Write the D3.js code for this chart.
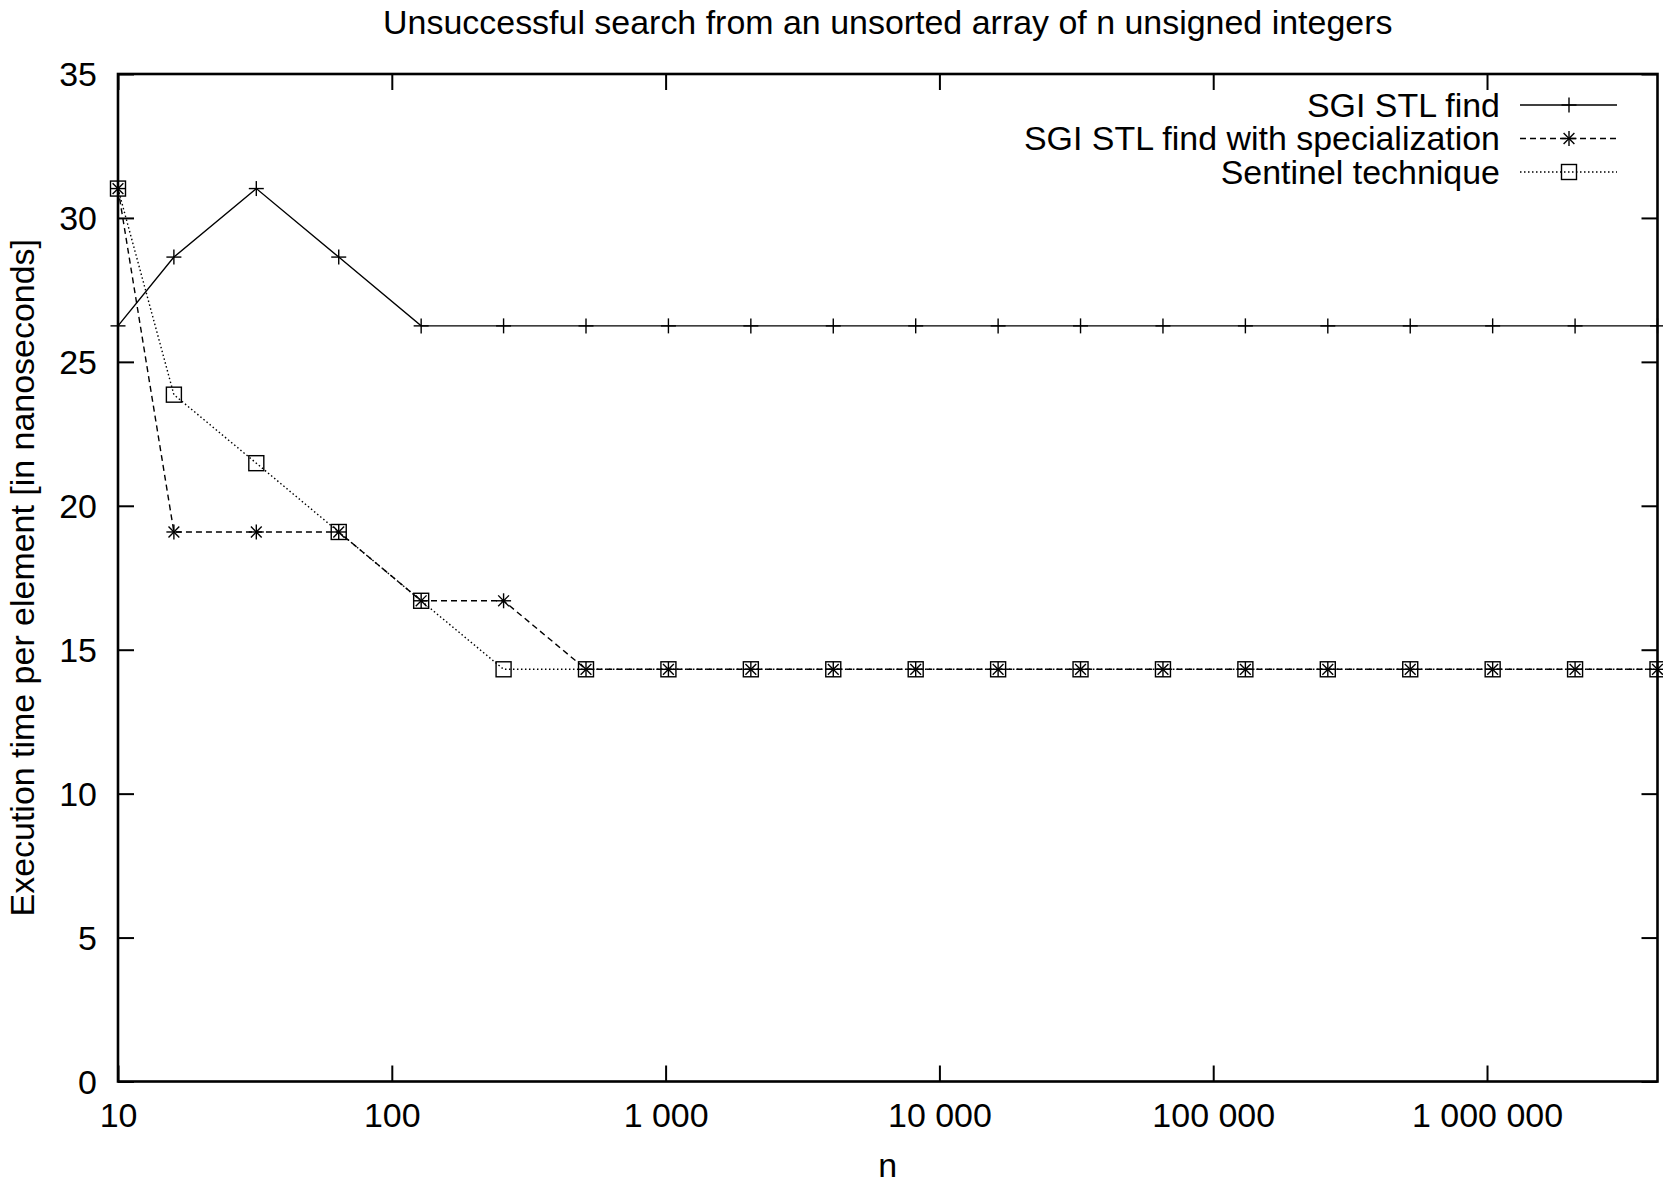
<!DOCTYPE html>
<html>
<head>
<meta charset="utf-8">
<script src="https://cdn.jsdelivr.net/npm/d3@7"></script>
<style>
  html, body { margin: 0; padding: 0; background: #fff; }
  svg { display: block; }
  text { font-family: "Liberation Sans", Arial, Helvetica, sans-serif; fill: #000; }
</style>
</head>
<body>
<svg id="chart" width="1663" height="1183"></svg>
<script>
// ---------------- data ----------------
const titleText = "Unsuccessful search from an unsorted array of n unsigned integers";
const xLabel = "n";
const yLabel = "Execution time per element [in nanoseconds]";

const nValues = [10, 16, 32, 64, 128, 256, 512, 1024, 2048, 4096, 8192, 16384,
                 32768, 65536, 131072, 262144, 524288, 1048576, 2097152, 4194304];

const sgiFind = [26.25, 28.64, 31.02, 28.64, 26.25, 26.25, 26.25, 26.25, 26.25, 26.25,
                 26.25, 26.25, 26.25, 26.25, 26.25, 26.25, 26.25, 26.25, 26.25, 26.25];
const sgiFindSpecialized = [31.02, 19.09, 19.09, 19.09, 16.70, 16.70, 14.32, 14.32, 14.32, 14.32,
                 14.32, 14.32, 14.32, 14.32, 14.32, 14.32, 14.32, 14.32, 14.32, 14.32];
const sentinel = [31.02, 23.86, 21.48, 19.09, 16.70, 14.32, 14.32, 14.32, 14.32, 14.32,
                 14.32, 14.32, 14.32, 14.32, 14.32, 14.32, 14.32, 14.32, 14.32, 14.32];

const seriesNames = ["SGI STL find", "SGI STL find with specialization", "Sentinel technique"];

const xTickValues = [10, 100, 1000, 10000, 100000, 1000000];
const xTickLabels = ["10", "100", "1 000", "10 000", "100 000", "1 000 000"];
const yTickValues = [0, 5, 10, 15, 20, 25, 30, 35];
const yTickLabels = ["0", "5", "10", "15", "20", "25", "30", "35"];

// ---------------- layout ----------------
const W = 1663, H = 1183;
const M = { left: 118, top: 74, right: 5.5, bottom: 101.5 };
const iw = W - M.left - M.right, ih = H - M.top - M.bottom;
const FS = 32.5, SX = 1.045;   // font size and horizontal stretch
const TICK = 16;

const svg = d3.select("#chart");
const g = svg.append("g").attr("transform", `translate(${M.left},${M.top})`);

const x = d3.scaleLog().domain([nValues[0], nValues[nValues.length - 1]]).range([0, iw]);
const y = d3.scaleLinear().domain([0, 35]).range([ih, 0]);

// axes (ticks inward, mirrored)
const fmtX = v => xTickLabels[xTickValues.indexOf(v)];
const fmtY = v => yTickLabels[yTickValues.indexOf(v)];

const axB = g.append("g").attr("transform", `translate(0,${ih})`)
  .call(d3.axisBottom(x).tickValues(xTickValues).tickFormat(fmtX).tickSizeInner(-TICK).tickSizeOuter(0));
const axT = g.append("g")
  .call(d3.axisTop(x).tickValues(xTickValues).tickFormat("").tickSizeInner(-TICK).tickSizeOuter(0));
const axL = g.append("g")
  .call(d3.axisLeft(y).tickValues(yTickValues).tickFormat(fmtY).tickSizeInner(-TICK).tickSizeOuter(0));
const axR = g.append("g").attr("transform", `translate(${iw},0)`)
  .call(d3.axisRight(y).tickValues(yTickValues).tickFormat("").tickSizeInner(-TICK).tickSizeOuter(0));

[axB, axT, axL, axR].forEach(a => {
  a.select(".domain").remove();
  a.selectAll(".tick line").attr("stroke", "#000").attr("stroke-width", 2);
  a.selectAll("text").attr("font-size", FS).attr("font-family", null).attr("fill", "#000");
});
axB.selectAll(".tick text")
  .attr("y", null).attr("dy", null)
  .attr("text-anchor", "middle")
  .attr("transform", `translate(0,45.5) scale(${SX},1)`);
axL.selectAll(".tick text")
  .attr("x", null).attr("dy", null)
  .attr("text-anchor", "end")
  .attr("transform", `translate(-21,11.5) scale(${SX},1)`);

// border
g.append("rect").attr("x", 0).attr("y", 0).attr("width", iw).attr("height", ih)
  .attr("fill", "none").attr("stroke", "#000").attr("stroke-width", 2.6);

// ---------------- series ----------------
const styles = [
  { dash: null, marker: "plus" },
  { dash: "6,4", marker: "star" },
  { dash: "1.5,2.5", marker: "box" }
];
const seriesData = [sgiFind, sgiFindSpecialized, sentinel];

function drawMarker(sel, type, cx, cy) {
  const s = 7.5;
  const mg = sel.append("g").attr("transform", `translate(${cx},${cy})`)
    .attr("stroke", "#000").attr("stroke-width", 1.4).attr("fill", "none");
  if (type === "plus" || type === "star") {
    mg.append("line").attr("x1", -s).attr("x2", s).attr("y1", 0).attr("y2", 0);
    mg.append("line").attr("x1", 0).attr("x2", 0).attr("y1", -s).attr("y2", s);
  }
  if (type === "star") {
    const d = s * 0.72;
    mg.append("line").attr("x1", -d).attr("x2", d).attr("y1", -d).attr("y2", d);
    mg.append("line").attr("x1", -d).attr("x2", d).attr("y1", d).attr("y2", -d);
  }
  if (type === "box") {
    mg.append("rect").attr("x", -s).attr("y", -s).attr("width", 2 * s).attr("height", 2 * s);
  }
}

const line = d3.line().x(d => x(d[0])).y(d => y(d[1]));

seriesData.forEach((vals, i) => {
  const pts = nValues.map((n, k) => [n, vals[k]]);
  g.append("path").datum(pts)
    .attr("d", line)
    .attr("fill", "none").attr("stroke", "#000").attr("stroke-width", 1.4)
    .attr("stroke-dasharray", styles[i].dash);
  const mg = g.append("g");
  pts.forEach(p => drawMarker(mg, styles[i].marker, x(p[0]), y(p[1])));
});

// ---------------- legend ----------------
const legendRowsY = [105, 138.5, 172];
const legTextRight = 1500, legLineX1 = 1520, legLineX2 = 1617, legMarkX = 1569;
seriesNames.forEach((name, i) => {
  const ly = legendRowsY[i];
  svg.append("text")
    .attr("transform", `translate(${legTextRight},${ly + 11.5}) scale(${SX},1)`)
    .attr("text-anchor", "end").attr("font-size", FS).text(name);
  svg.append("line").attr("x1", legLineX1).attr("x2", legLineX2).attr("y1", ly).attr("y2", ly)
    .attr("stroke", "#000").attr("stroke-width", 1.4).attr("stroke-dasharray", styles[i].dash);
  drawMarker(svg, styles[i].marker, legMarkX, ly);
});

// ---------------- titles ----------------
svg.append("text")
  .attr("transform", `translate(${M.left + iw / 2},34) scale(${SX},1)`)
  .attr("text-anchor", "middle").attr("font-size", FS).text(titleText);

svg.append("text")
  .attr("transform", `translate(${M.left + iw / 2},1177) scale(${SX},1)`)
  .attr("text-anchor", "middle").attr("font-size", FS).text(xLabel);

svg.append("text")
  .attr("transform", `translate(33.5,${M.top + ih / 2}) rotate(-90) scale(${SX},1)`)
  .attr("text-anchor", "middle").attr("font-size", FS).text(yLabel);
</script>
</body>
</html>
